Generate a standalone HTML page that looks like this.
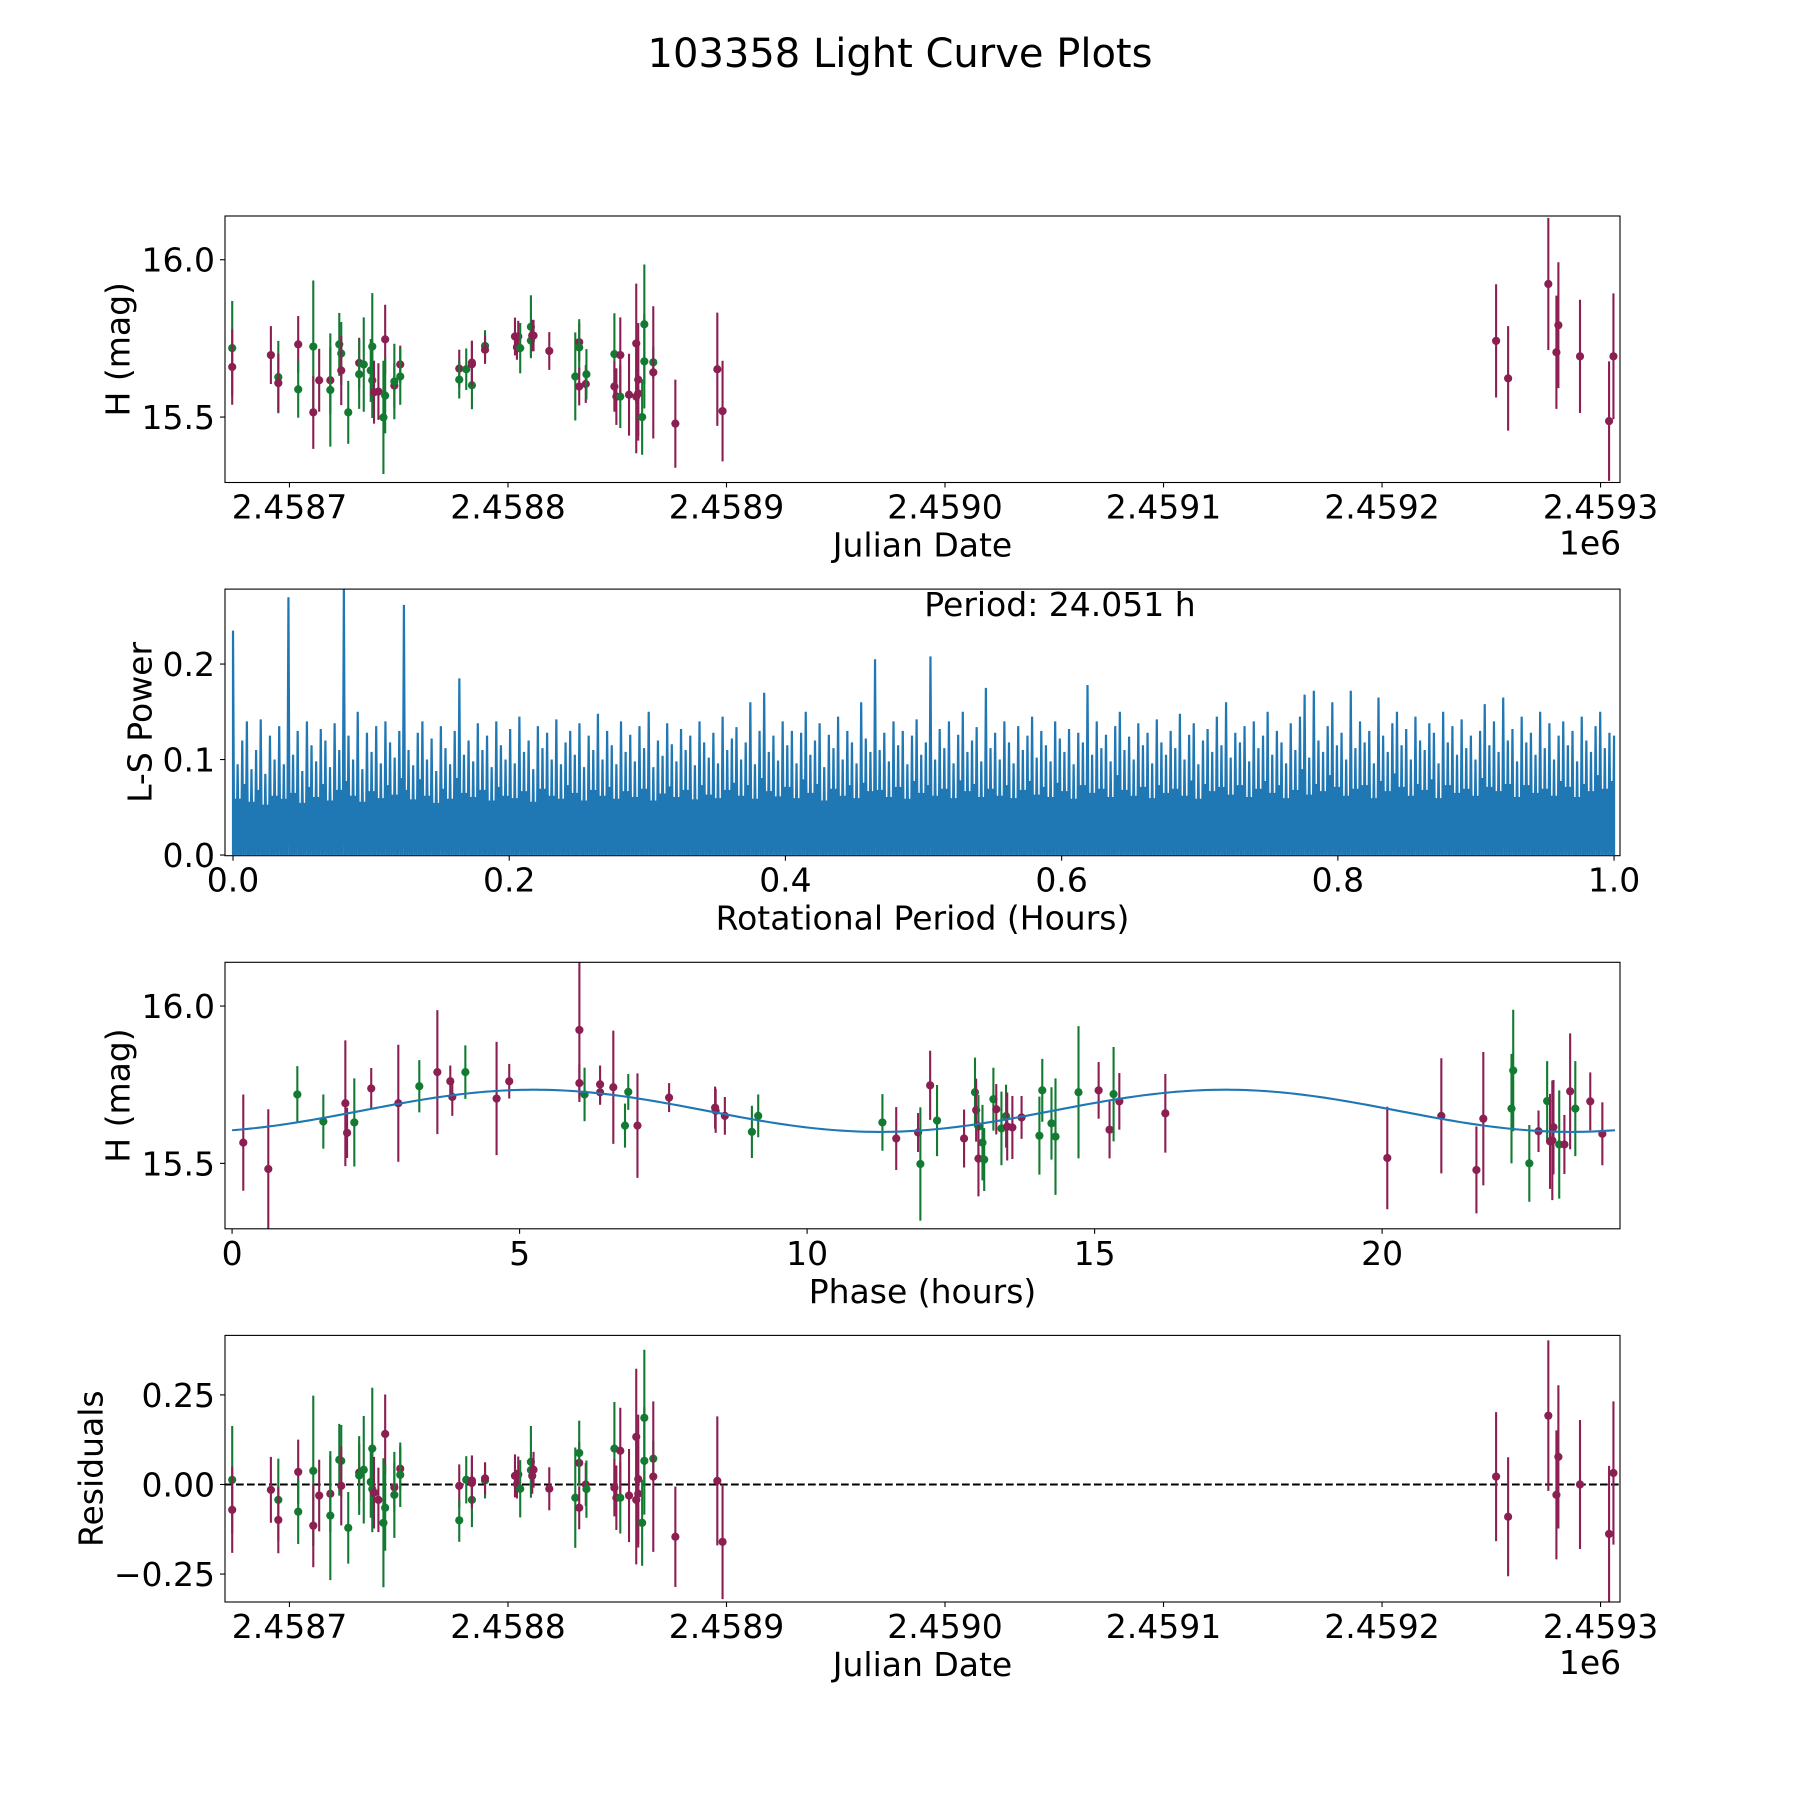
<!DOCTYPE html>
<html>
<head>
<meta charset="utf-8">
<style>
html,body{margin:0;padding:0;background:#fff;}
svg{display:block;font-family:"DejaVu Sans","Liberation Sans",sans-serif;}
</style>
</head>
<body>
<svg id="fig" width="1800" height="1800" viewBox="0 0 1800 1800" xmlns="http://www.w3.org/2000/svg">
<rect x="0" y="0" width="1800" height="1800" fill="#fff"/>
<text x="900" y="67" font-size="40" text-anchor="middle">103358 Light Curve Plots</text>
<defs>
<clipPath id="c1"><rect x="225" y="216" width="1395" height="266.5"/></clipPath>
<clipPath id="c2"><rect x="225" y="589.1" width="1395" height="266.6"/></clipPath>
<clipPath id="c3"><rect x="225" y="962.3" width="1395" height="266.5"/></clipPath>
<clipPath id="c4"><rect x="225" y="1335.4" width="1395" height="266.6"/></clipPath>
</defs>
<g id="p1"></g>
<g id="p2"></g>
<g id="p3"></g>
<g id="p4"></g>
</svg>
<script>
// ---- light curve data (JD, H mag, error, filter colour) ----
const jd = [2458673.8,2458673.8,2458691.5,2458694.9,2458694.9,2458704.0,2458704.0,2458710.9,2458710.9,2458713.6,2458718.7,2458718.7,2458722.8,2458723.7,2458723.7,2458726.9,2458731.9,2458731.9,2458734.0,2458737.2,2458737.9,2458737.9,2458738.7,2458740.7,2458743.8,2458743.8,2458743.0,2458748.0,2458748.0,2458750.7,2458750.7,2458777.7,2458777.7,
2458780.9,2458783.5,2458783.5,2458783.5,2458789.5,2458789.5,2458803.2,2458804.1,2458804.7,2458805.6,2458810.5,2458810.5,2458811.1,2458811.7,2458818.9,2458830.8,2458832.6,2458832.6,2458832.6,2458835.6,2458835.9,2458848.7,2458848.7,2458849.6,2458851.4,2458851.4,2458855.4,2458858.7,2458858.7,2458859.6,2458859.6,2458861.4,2458862.4,2458862.4,2458866.5,2458866.5,2458876.6,2458895.8,2458898.2,
2459252.2,2459257.7,2459276.1,2459280.7,2459279.8,2459290.6,2459303.9,2459305.9];
const mag = [15.719,15.659,15.697,15.627,15.608,15.731,15.588,15.724,15.515,15.617,15.617,15.586,15.731,15.702,15.648,15.515,15.672,15.636,15.667,15.648,15.724,15.617,15.579,15.581,15.747,15.568,15.499,15.600,15.613,15.667,15.629,15.654,15.619,
15.652,15.601,15.673,15.668,15.726,15.714,15.756,15.722,15.756,15.719,15.787,15.743,15.759,15.759,15.710,15.629,15.738,15.721,15.597,15.605,15.636,15.700,15.597,15.565,15.565,15.697,15.571,15.734,15.565,15.619,15.575,15.500,15.795,15.677,15.674,15.642,15.479,15.652,15.519,
15.742,15.623,15.923,15.792,15.706,15.693,15.487,15.693];
const magErr = [0.15,0.12,0.092,0.115,0.093,0.09,0.09,0.21,0.116,0.10,0.107,0.18,0.1,0.1,0.11,0.1,0.08,0.11,0.15,0.1,0.17,0.12,0.1,0.09,0.11,0.12,0.18,0.07,0.12,0.06,0.09,0.06,0.06,
0.066,0.076,0.07,0.07,0.05,0.045,0.06,0.04,0.05,0.08,0.1,0.05,0.05,0.05,0.06,0.14,0.06,0.09,0.06,0.06,0.08,0.13,0.08,0.09,0.1,0.12,0.13,0.19,0.18,0.18,0.15,0.12,0.19,0.15,0.05,0.21,0.14,0.18,0.16,
0.18,0.166,0.21,0.2,0.18,0.18,0.19,0.2];
const filt = ["g","m","m","g","m","m","g","g","m","m","m","g","g","g","m","g","m","g","g","g","g","g","m","m","m","g","g","m","g","m","g","m","g",
"g","g","m","m","g","m","m","m","m","g","g","g","m","m","m","g","m","g","m","m","g","g","m","m","g","m","m","m","m","m","m","g","g","g","g","m","m","m","m",
"m","m","m","m","m","m","m","m"];
const resid = [0.013,-0.071,-0.015,-0.043,-0.099,0.035,-0.076,0.038,-0.115,-0.031,-0.026,-0.087,0.069,0.066,-0.004,-0.121,0.033,0.025,0.041,0.007,0.1,-0.013,-0.023,-0.043,0.141,-0.065,-0.107,-0.008,-0.029,0.044,0.027,-0.004,-0.1,
0.013,-0.043,0.011,0.004,0.011,0.017,0.024,0.001,0.028,-0.012,0.063,0.04,0.024,0.041,-0.012,-0.037,0.06,0.088,-0.065,0,-0.013,0.1,-0.009,-0.037,-0.037,0.094,-0.031,0.133,-0.043,0.015,-0.026,-0.107,0.186,0.066,0.072,0.022,-0.146,0.01,-0.16,
0.022,-0.09,0.192,0.077,-0.029,0.0,-0.138,0.032];
// ---- phase-folded data ----
const phase = [0.195,0.63,1.135,1.587,1.97,2.0,2.126,2.42,2.891,3.256,3.57,3.795,3.83,4.057,4.6,4.82,6.04,6.04,6.13,6.40,6.40,6.63,6.833,6.89,7.05,7.6,8.40,8.41,8.57,9.04,9.15,
11.31,11.55,11.93,11.97,12.14,12.26,12.73,12.92,12.94,12.98,13.05,12.98,13.08,13.24,13.29,13.38,13.46,13.48,13.57,13.73,14.04,14.09,14.25,14.32,14.72,15.07,15.26,15.33,15.43,16.23,
20.09,21.03,21.64,21.76,22.25,22.28,22.56,22.72,22.87,22.92,22.96,22.98,23.08,23.17,23.27,23.36,23.62,23.83];
const phaseMag = [15.566,15.482,15.719,15.633,15.691,15.597,15.63,15.738,15.691,15.745,15.79,15.761,15.711,15.79,15.706,15.761,15.924,15.755,15.719,15.751,15.726,15.742,15.62,15.727,15.62,15.709,15.677,15.667,15.651,15.6,15.651,
15.630,15.579,15.598,15.498,15.748,15.636,15.579,15.726,15.669,15.617,15.566,15.515,15.512,15.704,15.672,15.611,15.65,15.617,15.614,15.646,15.588,15.732,15.627,15.585,15.726,15.732,15.607,15.72,15.697,15.659,
15.517,15.651,15.479,15.642,15.674,15.795,15.5,15.602,15.698,15.57,15.573,15.615,15.56,15.56,15.729,15.674,15.697,15.594];
const phaseErr = [0.153,0.19,0.09,0.086,0.2,0.08,0.14,0.065,0.186,0.083,0.197,0.05,0.06,0.085,0.18,0.055,0.22,0.06,0.085,0.06,0.04,0.18,0.07,0.057,0.166,0.046,0.067,0.07,0.06,0.083,0.068,
0.09,0.1,0.062,0.18,0.11,0.113,0.092,0.11,0.1,0.1,0.12,0.12,0.1,0.1,0.08,0.117,0.1,0.108,0.1,0.068,0.124,0.1,0.115,0.185,0.21,0.09,0.091,0.15,0.09,0.125,
0.163,0.183,0.138,0.212,0.174,0.193,0.122,0.066,0.127,0.151,0.19,0.15,0.172,0.094,0.184,0.151,0.092,0.1];
const phaseFilt = ["m","m","g","g","m","m","g","m","m","g","m","m","m","g","m","m","m","m","g","m","m","m","g","g","m","m","m","m","m","g","g",
"g","m","m","g","m","g","m","g","m","g","g","m","g","g","m","g","g","m","m","m","g","g","g","g","g","m","m","g","m","m",
"m","m","m","m","g","g","g","m","g","m","m","m","g","m","m","g","m","m"];
// model: [mean mag, amplitude, period (h), peak phase (h)]
const modelParams = [15.667, 0.067, 12.0255, 5.25];
const modelRange = [0, 24.05];
// ---- Lomb-Scargle periodogram (peak power, x 1e-3) ----
const lsPower = [235,95,120,140,90,110,142,85,125,100,135,95,270,105,130,88,140,115,98,132,
120,92,138,110,280,125,100,150,90,128,108,135,96,140,118,102,130,262,110,94,
128,140,100,122,88,135,112,95,130,185,105,120,98,138,110,125,92,140,115,100,
132,96,145,108,120,90,135,112,128,100,142,95,118,130,105,138,92,125,110,148,
100,130,115,95,140,108,126,98,135,112,150,92,120,104,138,116,98,132,110,125,
94,140,118,102,128,96,145,110,122,134,100,118,160,95,130,170,108,125,99,140,
115,130,96,128,150,105,120,138,92,126,112,145,100,130,118,96,160,122,108,205,
110,128,98,140,115,130,95,125,142,105,118,208,100,132,112,140,96,126,150,108,
120,134,98,175,112,128,100,140,118,96,135,110,125,145,102,130,115,98,140,122,
108,132,95,128,118,178,105,140,112,126,98,135,150,110,124,100,138,115,128,96,
142,118,105,130,112,148,100,126,138,95,120,132,108,145,115,160,102,128,118,135,
98,140,112,125,150,105,130,118,96,138,110,145,168,102,172,120,108,135,160,115,
128,100,172,112,140,118,130,96,165,125,108,138,150,115,132,100,145,120,110,138,
128,96,150,118,135,105,142,112,125,100,130,158,115,140,108,165,120,132,98,145,
118,128,105,150,112,138,100,125,140,115,130,98,145,120,108,135,150,112,128,125];
const lsRange = [0.0, 1.0];
const periodLabel = "Period: 24.051 h";
// ---- ticks ----
const jdTicks = [2458700,2458800,2458900,2459000,2459100,2459200,2459300];
const jdTickLabels = ["2.4587","2.4588","2.4589","2.4590","2.4591","2.4592","2.4593"];
const magTicks = [15.5,16.0];
const magTickLabels = ["15.5","16.0"];
const lsXTicks = [0,0.2,0.4,0.6,0.8,1.0];
const lsXTickLabels = ["0.0","0.2","0.4","0.6","0.8","1.0"];
const lsYTicks = [0,0.1,0.2];
const lsYTickLabels = ["0.0","0.1","0.2"];
const phTicks = [0,5,10,15,20];
const phTickLabels = ["0","5","10","15","20"];
const resTicks = [-0.25,0,0.25];
const resTickLabels = ["\u22120.25","0.00","0.25"];

const NS="http://www.w3.org/2000/svg";
const COL={m:"#8B1F52",g:"#137A32"};
const L=225,R=1620;
function lin(d0,d1,p0,p1){return v=>p0+(v-d0)/(d1-d0)*(p1-p0);}
function mk(parent,tag,attrs,txt){const e=document.createElementNS(NS,tag);for(const k in attrs)e.setAttribute(k,attrs[k]);if(txt!==undefined)e.textContent=txt;parent.appendChild(e);return e;}

const panels=[
 {g:"p1",top:216,bot:482.5,clip:"c1",x:lin(2458670.5,2459308.9,L,R),y:lin(15.292,16.139,482.5,216)},
 {g:"p2",top:589.1,bot:855.7,clip:"c2",x:lin(-0.0058,1.0043,L,R),y:lin(-0.0007,0.2785,855.7,589.1)},
 {g:"p3",top:962.3,bot:1228.8,clip:"c3",x:lin(-0.123,24.137,L,R),y:lin(15.292,16.139,1228.8,962.3)},
 {g:"p4",top:1335.4,bot:1602,clip:"c4",x:lin(2458670.5,2459308.9,L,R),y:lin(-0.328,0.416,1602,1335.4)}
];

function axes(p,xt,xl,yt,yl,xlabel,ylabel,ylx,offset){
 const g=document.getElementById(p.g);
 for(let i=0;i<xt.length;i++){
  const X=p.x(xt[i]);
  const t=mk(g,"line",{x1:X,x2:X,y1:p.bot,y2:p.bot+5,stroke:"#000","stroke-width":1.1});
  
  
  const tl=mk(g,"text",{x:X,y:p.bot+36,"font-size":33,"text-anchor":"middle"},xl[i]);
  
  
 }
 for(let i=0;i<yt.length;i++){
  const Y=p.y(yt[i]);
  const t=mk(g,"line",{x1:L-5,x2:L,y1:Y,y2:Y,stroke:"#000","stroke-width":1.1});
  
  
  const tl=mk(g,"text",{x:L-10,y:Y+12,"font-size":33,"text-anchor":"end"},yl[i]);
  
  
 }
 const xla=mk(g,"text",{x:(L+R)/2,y:p.bot+74,"font-size":33,"text-anchor":"middle"},xlabel);
 
 
 const cy=(p.top+p.bot)/2;
 const yla=mk(g,"text",{x:ylx,y:cy,"font-size":33,"text-anchor":"middle","dominant-baseline":"central",transform:"rotate(-90 "+ylx+" "+cy+")"},ylabel);
 
 
 if(offset){
  const o=mk(g,"text",{x:R-30,y:p.bot+72,"font-size":33,"text-anchor":"middle"},offset);
  
  
 }
}
function frame(p){
 const g=document.getElementById(p.g);
 const f=mk(g,"rect",{x:L,y:p.top,width:R-L,height:p.bot-p.top,fill:"none",stroke:"#000","stroke-width":1.1});
 
 
}
function errPoints(p,xs,ys,es,cs,name){
 const g=document.getElementById(p.g);
 const cg=mk(g,"g",{"clip-path":"url(#"+p.clip+")"});
 
 
 for(let i=0;i<xs.length;i++){
  const X=p.x(xs[i]);
  const c=COL[cs[i]];
  const eb=mk(cg,"line",{x1:X,x2:X,y1:p.y(ys[i]-es[i]),y2:p.y(ys[i]+es[i]),stroke:c,"stroke-width":2.1});
  
  
  const pt=mk(cg,"circle",{cx:X,cy:p.y(ys[i]),r:4.1,fill:c});
  
  
 }
}

// Panel 1
const P1=panels[0];
errPoints(P1,jd,mag,magErr,filt,"light-curve");
frame(P1);
axes(P1,jdTicks,jdTickLabels,magTicks,magTickLabels,"Julian Date","H (mag)",118,"1e6");

// Panel 2: periodogram
const P2=panels[1];
(function(){
 const g=document.getElementById(P2.g);
 const n=lsPower.length;
 const step=(lsRange[1]-lsRange[0])/(n-1);
 let d="M"+P2.x(lsRange[0]).toFixed(2)+","+P2.y(0).toFixed(2);
 for(let i=0;i<n;i++){
  const xv=lsRange[0]+i*step;
  d+=" L"+P2.x(xv).toFixed(2)+","+P2.y(lsPower[i]/1000).toFixed(2);
  if(i<n-1){
   const mid=0.62*Math.min(lsPower[i],lsPower[i+1])/1000;
   d+=" L"+P2.x(xv+step*0.25).toFixed(2)+","+P2.y(0).toFixed(2);
   d+=" L"+P2.x(xv+step*0.5).toFixed(2)+","+P2.y(mid).toFixed(2);
   d+=" L"+P2.x(xv+step*0.75).toFixed(2)+","+P2.y(0).toFixed(2);
  }
 }
 d+=" L"+P2.x(lsRange[1]).toFixed(2)+","+P2.y(0).toFixed(2);
 const cg=mk(g,"g",{"clip-path":"url(#"+P2.clip+")"});
 
 
 const path=mk(cg,"path",{d:d,fill:"none",stroke:"#1f77b4","stroke-width":2.2,"stroke-linejoin":"miter"});
 
 
 const lab=mk(g,"text",{x:1060,y:616,"font-size":33,"text-anchor":"middle"},periodLabel);
 
 
})();
frame(P2);
axes(P2,lsXTicks,lsXTickLabels,lsYTicks,lsYTickLabels,"Rotational Period (Hours)","L-S Power",140,null);

// Panel 3: phase folded
const P3=panels[2];
errPoints(P3,phase,phaseMag,phaseErr,phaseFilt,"phase");
(function(){
 const g=document.getElementById(P3.g);
 let d="";
 const N=300;
 for(let i=0;i<=N;i++){
  const ph=modelRange[0]+(modelRange[1]-modelRange[0])*i/N;
  const m=modelParams[0]+modelParams[1]*Math.cos(2*Math.PI*(ph-modelParams[3])/modelParams[2]);
  d+=(i?" L":"M")+P3.x(ph).toFixed(2)+","+P3.y(m).toFixed(2);
 }
 const c=mk(g,"path",{d:d,fill:"none",stroke:"#1f77b4","stroke-width":2.1});
 
 
})();
frame(P3);
axes(P3,phTicks,phTickLabels,magTicks,magTickLabels,"Phase (hours)","H (mag)",118,null);

// Panel 4: residuals
const P4=panels[3];
(function(){
 const g=document.getElementById(P4.g);
 const z=mk(g,"line",{x1:L,x2:R,y1:P4.y(0),y2:P4.y(0),stroke:"#000","stroke-width":2,"stroke-dasharray":"7.7 3.3"});
 
 
})();
errPoints(P4,jd,resid,magErr,filt,"residual");
frame(P4);
axes(P4,jdTicks,jdTickLabels,resTicks,resTickLabels,"Julian Date","Residuals",91,"1e6");
</script>
</body>
</html>
